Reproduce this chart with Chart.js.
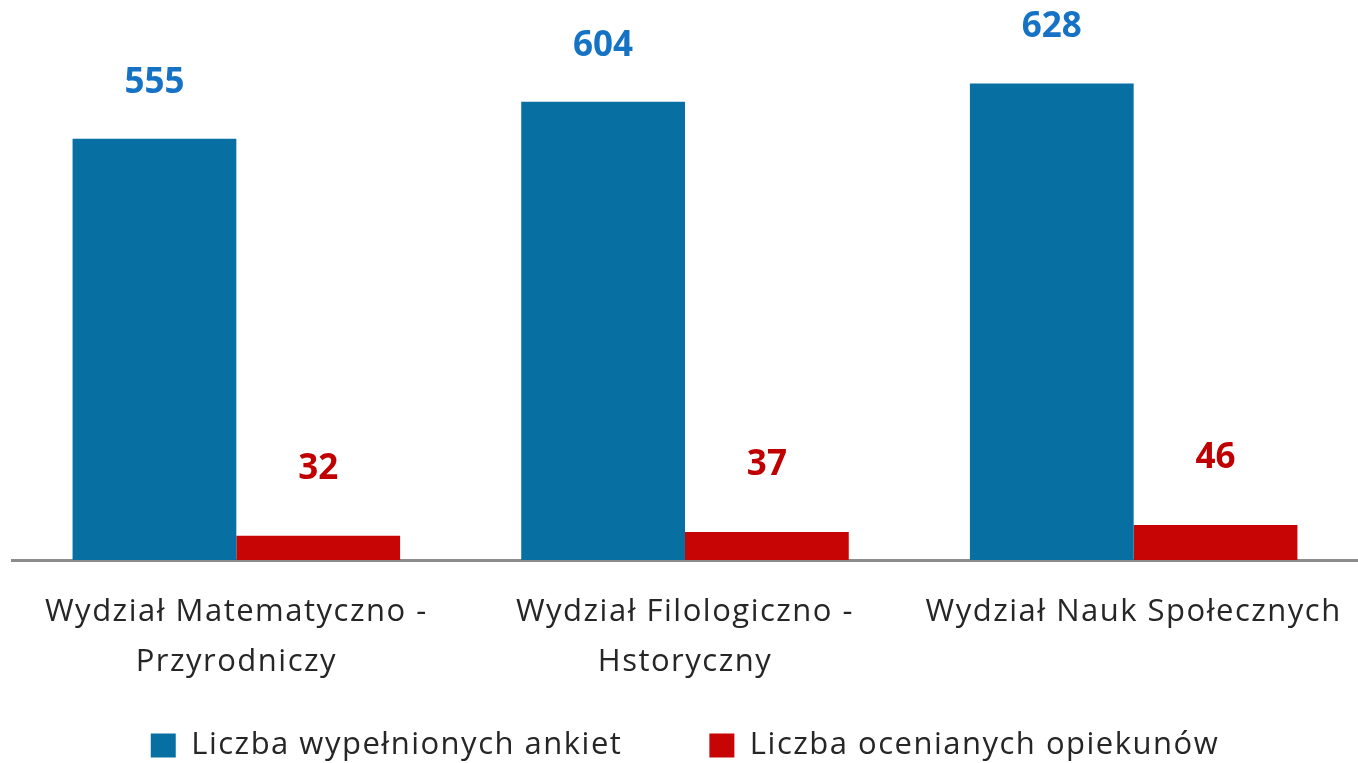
<!DOCTYPE html>
<html>
<head>
<meta charset="utf-8">
<script src="https://cdn.jsdelivr.net/npm/chart.js@4"></script>
<style>
html,body{margin:0;padding:0;background:#fff;}
#wrap{width:1358px;height:763px;position:relative;}
</style>
</head>
<body>
<div id="wrap"><canvas id="c"></canvas></div>
<script>
const categories = [
  ["Wydział Matematyczno -", "Przyrodniczy"],
  ["Wydział Filologiczno -", "Hstoryczny"],
  ["Wydział Nauk Społecznych"]
];
const seriesNames = ["Liczba wypełnionych ankiet", "Liczba ocenianych opiekunów"];
const ankiety = [555, 604, 628];
const opiekunowie = [32, 37, 46];

const FONT = "'Open Sans', sans-serif";
const SPACING = '1.5px';

const letterSpacing = {
  id: 'letterSpacing',
  beforeLayout(chart) { chart.ctx.letterSpacing = SPACING; },
  beforeDraw(chart) { chart.ctx.letterSpacing = SPACING; }
};

const valueLabels = {
  id: 'valueLabels',
  afterDatasetsDraw(chart) {
    const ctx = chart.ctx;
    const cfg = [
      {color: '#1572C4', off: 56},
      {color: '#C00000', off: 67}
    ];
    chart.data.datasets.forEach((ds, i) => {
      const meta = chart.getDatasetMeta(i);
      ctx.save();
      ctx.letterSpacing = '0px';
      ctx.font = "bold 35px " + FONT;
      ctx.fillStyle = cfg[i].color;
      ctx.textAlign = 'center';
      ctx.textBaseline = 'middle';
      meta.data.forEach((el, j) => {
        ctx.fillText(String(ds.data[j]), el.x, el.y - cfg[i].off);
      });
      ctx.restore();
    });
  }
};

new Chart(document.getElementById('c'), {
  type: 'bar',
  data: {
    labels: categories,
    datasets: [
      {label: seriesNames[0], data: ankiety, backgroundColor: '#086FA3', categoryPercentage: 0.73, barPercentage: 1},
      {label: seriesNames[1], data: opiekunowie, backgroundColor: '#C80505', categoryPercentage: 0.73, barPercentage: 1}
    ]
  },
  options: {
    responsive: true,
    maintainAspectRatio: false,
    animation: false,
    layout: {padding: {left: 12, right: 0, top: 0, bottom: -8}},
    plugins: {
      tooltip: {enabled: false},
      legend: {
        position: 'bottom',
        labels: {
          font: {family: FONT, size: 31},
          color: '#262626',
          boxWidth: 25,
          boxHeight: 24,
          padding: 22,
          generateLabels(chart) {
            const items = Chart.defaults.plugins.legend.labels.generateLabels(chart);
            items.forEach((it, i) => { if (i === 0) it.text = it.text + '\u2003\u2003'; });
            return items;
          }
        }
      }
    },
    scales: {
      x: {
        grid: {display: false, drawTicks: false},
        border: {display: true, color: '#8C8C8C', width: 3},
        ticks: {
          font: {family: FONT, size: 31, lineHeight: '50px'},
          color: '#262626',
          padding: 27,
          maxRotation: 0,
          autoSkip: false
        },
        afterFit(scale) {
          scale.height = 148;
          scale.paddingLeft = 0;
          scale.paddingRight = 0;
        }
      },
      y: {
        display: false,
        min: 0,
        max: 738,
        beginAtZero: true
      }
    }
  },
  plugins: [letterSpacing, valueLabels]
});
</script>
</body>
</html>
